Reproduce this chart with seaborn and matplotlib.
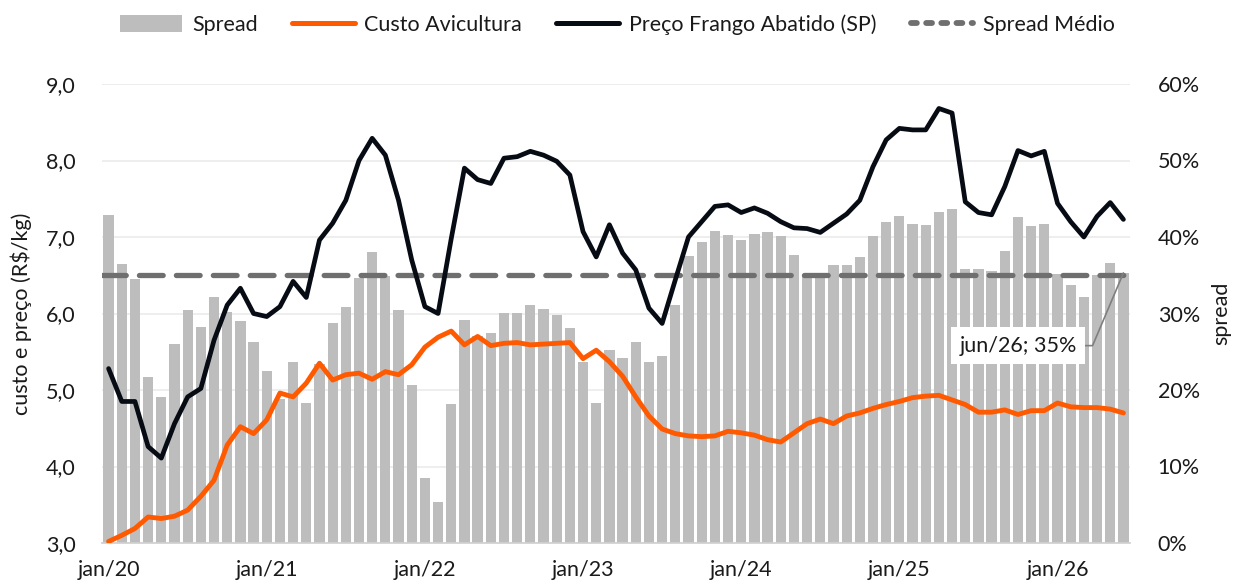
import numpy as np
import pandas as pd
import matplotlib
matplotlib.use("Agg")
import matplotlib.pyplot as plt
import seaborn as sns
from matplotlib.patches import Patch
from matplotlib.lines import Line2D

# monthly data jan/20 .. jun/26
meses_pt = ['jan', 'fev', 'mar', 'abr', 'mai', 'jun', 'jul', 'ago', 'set', 'out', 'nov', 'dez']
months = [f"{meses_pt[m]}/{y}" for y in range(20, 27) for m in range(12)][:78]

spread = [42.9, 36.5, 34.5, 21.7, 19.1, 26.0, 30.4, 28.3, 32.1, 30.2, 29.0, 26.3,
          22.5, 18.8, 23.6, 18.3, 23.4, 28.7, 30.9, 34.7, 38.1, 34.9, 30.4, 20.7,
          8.5, 5.4, 18.2, 29.2, 27.0, 27.5, 30.1, 30.1, 31.1, 30.6, 29.8, 28.1,
          23.6, 18.3, 25.2, 24.2, 26.3, 23.6, 24.4, 31.1, 37.5, 39.3, 40.8, 40.2,
          39.6, 40.4, 40.6, 40.1, 37.7, 35.0, 34.6, 36.3, 36.3, 37.4, 40.1, 42.0,
          42.7, 41.7, 41.6, 43.3, 43.6, 35.8, 35.8, 35.6, 38.2, 42.6, 41.5, 41.7,
          35.2, 33.7, 32.2, 35.0, 36.6, 35.3]

preco = [5.28, 4.85, 4.85, 4.26, 4.11, 4.56, 4.91, 5.02, 5.65, 6.11, 6.33, 6.00,
         5.96, 6.09, 6.42, 6.21, 6.96, 7.18, 7.48, 8.00, 8.29, 8.07, 7.48, 6.70,
         6.09, 6.00, 6.98, 7.90, 7.75, 7.70, 8.03, 8.05, 8.12, 8.07, 7.99, 7.81,
         7.07, 6.74, 7.16, 6.79, 6.57, 6.07, 5.87, 6.44, 7.00, 7.20, 7.40, 7.42,
         7.32, 7.38, 7.31, 7.20, 7.12, 7.11, 7.06, 7.18, 7.30, 7.48, 7.92, 8.27,
         8.42, 8.40, 8.40, 8.68, 8.62, 7.46, 7.32, 7.29, 7.66, 8.13, 8.06, 8.12,
         7.44, 7.20, 7.00, 7.27, 7.45, 7.23]

custo = [3.02, 3.10, 3.19, 3.34, 3.32, 3.35, 3.43, 3.61, 3.82, 4.28, 4.52, 4.43,
         4.61, 4.96, 4.91, 5.09, 5.35, 5.13, 5.20, 5.22, 5.14, 5.24, 5.20, 5.33,
         5.56, 5.69, 5.77, 5.59, 5.70, 5.58, 5.61, 5.62, 5.59, 5.60, 5.61, 5.62,
         5.41, 5.52, 5.37, 5.18, 4.91, 4.66, 4.49, 4.43, 4.40, 4.39, 4.40, 4.46,
         4.44, 4.41, 4.35, 4.32, 4.44, 4.56, 4.62, 4.56, 4.66, 4.70, 4.76, 4.81,
         4.85, 4.90, 4.92, 4.93, 4.87, 4.81, 4.71, 4.71, 4.74, 4.68, 4.73, 4.73,
         4.83, 4.78, 4.77, 4.77, 4.75, 4.70]

spread_medio = 35.0

df = pd.DataFrame({'mes': months, 'spread': spread, 'preco': preco, 'custo': custo})
df['pos'] = np.arange(len(df))

tick_pos = list(range(0, 78, 12))
tick_labels = [months[i] for i in tick_pos]

c_bar = '#BDBDBD'
c_orange = '#FF5A00'
c_black = '#070B14'
c_dash = '#6F6F6F'
c_text = '#1A1A1A'
fs = 15.5

sns.set_theme(style='white')
plt.rcParams['font.family'] = ['Lato', 'DejaVu Sans']

fig = plt.figure(figsize=(12.42, 5.86), dpi=100)
ax = fig.add_axes([102 / 1242, 1 - 543 / 586, 1028 / 1242, 459 / 586])

# bars (spread) on the primary axes, shown on the right side
sns.barplot(data=df, x='pos', y='spread', ax=ax, color=c_bar, width=0.78,
            saturation=1, edgecolor='none', zorder=2)
ax.plot([-0.5, 77.5], [spread_medio, spread_medio], color=c_dash, lw=3.8,
        dashes=(4.5, 2.5), dash_capstyle='round', zorder=3)

ax.set_xlim(-0.5, 77.5)
ax.set_ylim(0, 60)
ax.grid(axis='y', color='#EBEBEB', lw=1.2)
ax.set_axisbelow(True)
ax.set_xticks(tick_pos)
ax.set_xticklabels(tick_labels)
ax.set_xlabel('')
for s in ['top', 'left', 'right']:
    ax.spines[s].set_visible(False)
ax.spines['bottom'].set_color('#D0D0D0')

# annotation for last month
ax.annotate(f"{months[-1]}; {spread[-1]:.0f}%", xy=(77, spread[-1]),
            xytext=(69, 25.8), ha='center', va='center', fontsize=fs,
            color=c_text,
            bbox=dict(boxstyle='square,pad=0.4', fc='white', ec='none'),
            arrowprops=dict(arrowstyle='-', color='#7F7F7F', lw=1.2,
                            shrinkA=0, shrinkB=0,
                            connectionstyle='angle,angleA=0,angleB=67,rad=0'),
            zorder=6)

# lines on twin axes, shown on the left side
ax2 = ax.twinx()
sns.lineplot(data=df, x='pos', y='custo', ax=ax2, color=c_orange, lw=3.5)
sns.lineplot(data=df, x='pos', y='preco', ax=ax2, color=c_black, lw=3.4)
ax2.set_ylim(3, 9)
ax2.set_yticks(range(3, 10))
ax2.set_yticklabels([f"{v},0" for v in range(3, 10)])
ax2.yaxis.tick_left()
ax2.yaxis.set_label_position('left')
ax2.set_ylabel('custo e preço (R$/kg)', fontsize=fs, color=c_text, labelpad=10)
ax2.set_xlabel('')
ax2.tick_params(axis='y', length=0, labelsize=fs, labelcolor=c_text, pad=19)
for s in ax2.spines.values():
    s.set_visible(False)

# right axis for the spread (set after twinx, which moves ticks back left)
ax.yaxis.tick_right()
ax.yaxis.set_label_position('right')
ax.set_yticks(range(0, 61, 10))
ax.set_yticklabels([f"{v}%" for v in range(0, 61, 10)])
ax.set_ylabel('spread', fontsize=fs, color=c_text, labelpad=8)
ax.tick_params(axis='both', length=0, labelsize=fs, labelcolor=c_text)
ax.tick_params(axis='y', pad=20)
ax.tick_params(axis='x', pad=12)

handles = [Patch(facecolor=c_bar, edgecolor='none'),
           Line2D([], [], color=c_orange, lw=3.6),
           Line2D([], [], color=c_black, lw=3.6),
           Line2D([], [], color=c_dash, lw=4.2, dashes=(1.0, 1.6), dash_capstyle='round')]
labels = ['Spread', 'Custo Avicultura', 'Preço Frango Abatido (SP)', 'Spread Médio']
fig.legend(handles, labels, loc='center', bbox_to_anchor=(0.497, 0.958), ncol=4,
           frameon=False, fontsize=fs, handlelength=2.9, handleheight=0.8,
           columnspacing=1.6, handletextpad=0.45, labelcolor=c_text)

fig.savefig('out.png', dpi=100)
